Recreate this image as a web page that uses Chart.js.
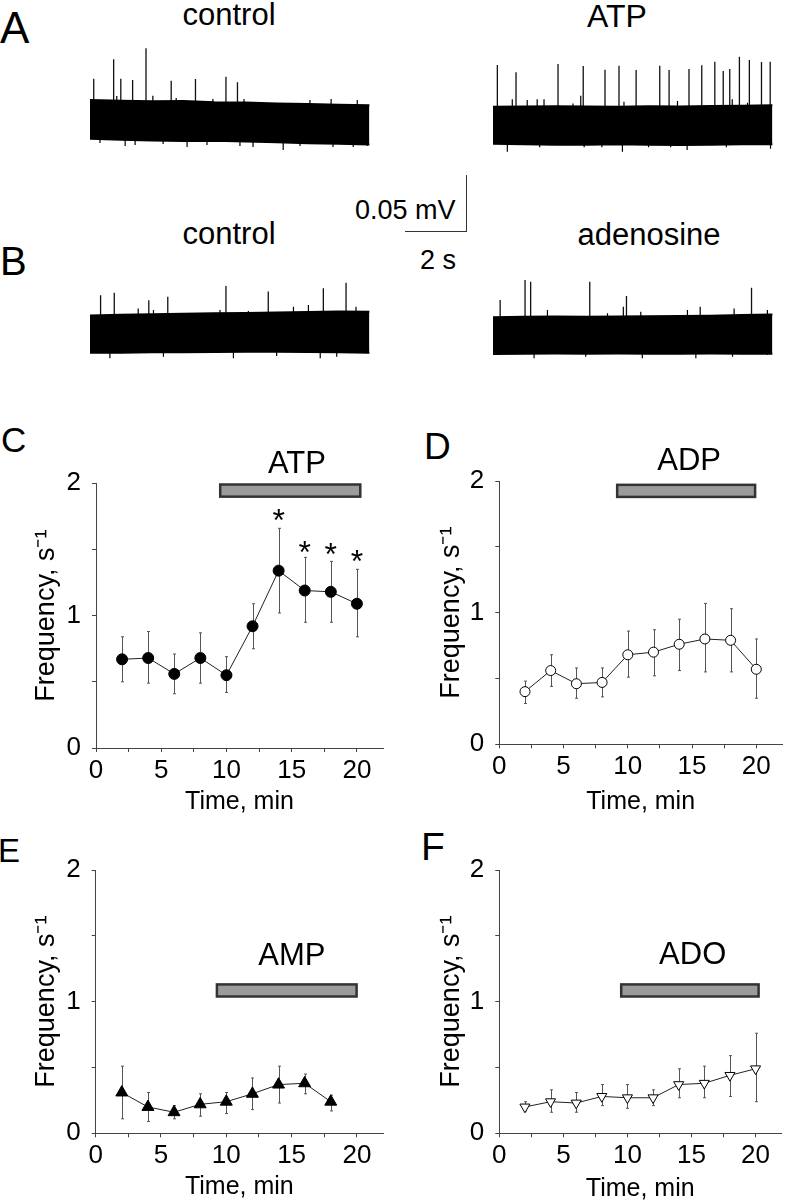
<!DOCTYPE html>
<html><head><meta charset="utf-8">
<script src="https://cdn.jsdelivr.net/npm/chart.js@4"></script>
<style>
html,body{margin:0;padding:0;background:#fff;width:788px;height:1202px;overflow:hidden;position:relative;}
canvas{position:absolute;}
.t{position:absolute;font-family:"Liberation Sans",Arial,sans-serif;color:#000;white-space:nowrap;line-height:1;}
.c{transform:translateX(-50%);}
.sb{position:absolute;background:#333;}
</style></head><body>

<div class="t" style="left:0;top:6px;font-size:44px;">A</div>
<div class="t" style="left:0;top:241px;font-size:40px;">B</div>
<div class="t" style="left:1px;top:422px;font-size:35px;">C</div>
<div class="t" style="left:424px;top:428px;font-size:37px;">D</div>
<div class="t" style="left:-2px;top:834px;font-size:33px;">E</div>
<div class="t" style="left:421px;top:827px;font-size:39px;">F</div>

<div class="t c" style="left:229px;top:-1px;font-size:31px;">control</div>
<div class="t c" style="left:617px;top:0px;font-size:32px;">ATP</div>
<div class="t c" style="left:229px;top:218px;font-size:31px;">control</div>
<div class="t c" style="left:649px;top:219px;font-size:31px;">adenosine</div>

<div class="t" style="left:355px;top:197px;font-size:27px;">0.05 mV</div>
<div class="t" style="left:420px;top:247px;font-size:27px;">2 s</div>
<div class="sb" id="sbV"></div>
<div class="sb" id="sbH"></div>

<canvas id="trA1" width="280" height="125" style="left:90px;top:41px;"></canvas>
<canvas id="trA2" width="280" height="125" style="left:493px;top:46px;"></canvas>
<canvas id="trB1" width="280" height="125" style="left:90px;top:254px;"></canvas>
<canvas id="trB2" width="280" height="125" style="left:493px;top:256px;"></canvas>

<canvas id="pC" width="394" height="440" style="left:0px;top:400px;"></canvas>
<canvas id="pD" width="394" height="440" style="left:394px;top:400px;"></canvas>
<canvas id="pE" width="394" height="382" style="left:0px;top:820px;"></canvas>
<canvas id="pF" width="394" height="382" style="left:394px;top:820px;"></canvas>

<script>
// ---------------- DATA ----------------
// Panels A/B: extracellular traces (time in s, voltage in mV)
const envTime = [0, 1, 2, 3, 4, 5, 6, 7, 8, 8.98];
const ctrlA_top = [0.018, 0.0175, 0.017, 0.0172, 0.016, 0.0158, 0.015, 0.0145, 0.014, 0.0135];
const ctrlA_bot = [-0.016, -0.017, -0.0175, -0.018, -0.0178, -0.0185, -0.019, -0.02, -0.0205, -0.021];
const ctrlA_spikeT = [0.12, 0.76, 0.99, 1.37, 1.80, 2.02, 2.61, 3.39, 4.37, 4.74];
const ctrlA_spikeV = [0.0367, 0.0539, 0.0367, 0.0356, 0.0636, 0.0218, 0.035, 0.0365, 0.0385, 0.0338];
const ctrlA_noiseT = [0.86, 2.77, 3.95, 4.95, 7.07, 7.75, 8.59, 0.32, 1.13, 1.45, 2.35, 3.12, 3.76, 4.82, 5.24, 6.21, 6.75, 7.81, 8.46, 8.91];
const ctrlA_noiseV = [0.0216, 0.0198, 0.0189, 0.0189, 0.018, 0.0189, 0.018, -0.0198, -0.0224, -0.0215, -0.0207, -0.0233, -0.0215, -0.0224, -0.0233, -0.026, -0.0224, -0.0233, -0.0233, -0.0224];

const atpA_top = [0.0165, 0.0168, 0.017, 0.0168, 0.0165, 0.017, 0.0168, 0.0172, 0.0175, 0.0178];
const atpA_bot = [-0.016, -0.0165, -0.017, -0.0168, -0.0165, -0.017, -0.0172, -0.0168, -0.0165, -0.0165];
const atpA_spikeT = [0.14, 0.74, 2.09, 2.82, 2.90, 3.60, 4.05, 4.60, 5.36, 5.66, 6.30, 6.71, 7.13, 7.40, 7.61, 7.92, 8.24, 8.63, 8.91];
const atpA_spikeV = [0.0532, 0.0468, 0.0541, 0.0262, 0.0524, 0.0491, 0.0526, 0.0488, 0.0526, 0.0488, 0.0497, 0.053, 0.0562, 0.048, 0.0497, 0.0606, 0.0577, 0.0559, 0.0562];
const atpA_noiseT = [0.62, 1.10, 1.42, 1.64, 2.57, 4.21, 5.93, 7.69, 8.18, 0.46, 1.50, 2.93, 3.50, 4.16, 5.00, 5.71, 6.24, 7.50, 8.92];
const atpA_noiseV = [0.0231, 0.0225, 0.0231, 0.0231, 0.0195, 0.021, 0.0216, 0.0231, 0.020, -0.023, -0.019, -0.019, -0.019, -0.023, -0.019, -0.019, -0.0215, -0.019, -0.0205];

const ctrlB_top = [0.0158, 0.0165, 0.017, 0.0175, 0.0178, 0.018, 0.0185, 0.019, 0.0195, 0.0192];
const ctrlB_bot = [-0.017, -0.0168, -0.0165, -0.0165, -0.0162, -0.016, -0.016, -0.0162, -0.0165, -0.0168];
const ctrlB_spikeT = [0.34, 0.78, 1.55, 1.89, 2.50, 4.37, 5.73, 7.50, 8.23];
const ctrlB_spikeV = [0.0338, 0.0359, 0.0221, 0.0294, 0.0323, 0.0418, 0.0371, 0.0398, 0.0447];
const ctrlB_noiseT = [2.04, 3.54, 4.18, 5.09, 6.54, 7.02, 8.55, 0.64, 2.36, 4.61, 6.0, 7.4, 7.93];
const ctrlB_noiseV = [0.0207, 0.0178, 0.0207, 0.0198, 0.0236, 0.0251, 0.0236, -0.0218, -0.0204, -0.0218, -0.0198, -0.0218, -0.0204];

const adoB_top = [0.0162, 0.0165, 0.0168, 0.0165, 0.0168, 0.017, 0.0172, 0.0175, 0.018, 0.0185];
const adoB_bot = [-0.0162, -0.016, -0.0158, -0.016, -0.0158, -0.016, -0.016, -0.0158, -0.016, -0.016];
const adoB_spikeT = [0.23, 1.03, 1.21, 3.11, 4.19, 4.29, 6.66, 8.31];
const adoB_spikeV = [0.0312, 0.0488, 0.0473, 0.0473, 0.0253, 0.0347, 0.0253, 0.042];
const adoB_noiseT = [1.75, 3.68, 4.75, 6.25, 7.75, 8.82, 0.14, 1.32, 2.98, 4.80, 6.52, 7.70, 8.82];
const adoB_noiseV = [0.0225, 0.0196, 0.021, 0.0225, 0.0239, 0.0225, -0.0171, -0.02, -0.0186, -0.02, -0.02, -0.0186, -0.0171];

const scaleBarTime = 2;      // s
const scaleBarVolt = 0.05;   // mV

// Panels C-F: frequency (s^-1) vs time (min)
const timeMin = [2, 4, 6, 8, 10, 12, 14, 16, 18, 20];
const atpMean = [0.67, 0.68, 0.56, 0.68, 0.55, 0.92, 1.34, 1.19, 1.18, 1.09];
const atpHi   = [0.84, 0.88, 0.71, 0.87, 0.69, 1.09, 1.66, 1.44, 1.41, 1.35];
const atpLo   = [0.50, 0.49, 0.41, 0.49, 0.42, 0.75, 1.02, 0.95, 0.95, 0.84];
const atpStarX = [14, 16, 18, 20];
const atpStarY = [1.78, 1.54, 1.52, 1.47];

const adpMean = [0.40, 0.56, 0.46, 0.47, 0.68, 0.70, 0.76, 0.80, 0.79, 0.57];
const adpHi   = [0.48, 0.68, 0.58, 0.58, 0.86, 0.87, 0.95, 1.07, 1.03, 0.80];
const adpLo   = [0.31, 0.44, 0.35, 0.36, 0.51, 0.52, 0.56, 0.55, 0.55, 0.35];

const ampTime = [2, 4, 6, 8, 10, 12, 14, 16, 18];
const ampMean = [0.31, 0.20, 0.16, 0.22, 0.24, 0.30, 0.37, 0.38, 0.24];
const ampHi   = [0.51, 0.31, 0.21, 0.30, 0.31, 0.42, 0.51, 0.45, 0.29];
const ampLo   = [0.11, 0.09, 0.11, 0.13, 0.15, 0.18, 0.23, 0.30, 0.17];

const adoMean = [0.20, 0.24, 0.23, 0.28, 0.27, 0.27, 0.37, 0.38, 0.44, 0.49];
const adoHi   = [0.24, 0.33, 0.31, 0.37, 0.37, 0.33, 0.49, 0.51, 0.59, 0.76];
const adoLo   = [0.17, 0.16, 0.16, 0.21, 0.19, 0.21, 0.27, 0.27, 0.28, 0.24];

// drug application bars: [start, end] in min, [low, high] in s^-1, and label position
const atpBarX = [9.43, 20.35], atpBarY = [1.89, 2.0], atpLabel = ['ATP', 15.4, 2.163];
const adpBarX = [9.08, 20.0],  adpBarY = [1.87, 1.98], adpLabel = ['ADP', 14.77, 2.17];
const ampBarX = [9.19, 20.07], ampBarY = [1.03, 1.14], ampLabel = ['AMP', 15.02, 1.36];
const adoBarX = [9.42, 20.33], adoBarY = [1.03, 1.14], adoLabel = ['ADO', 15.09, 1.373];

const xTicksLabelled = [0, 5, 10, 15, 20];
const yTicksLabelled = [0, 1, 2];

// ---------------- RENDER ----------------
const FONT = "'Liberation Sans', Arial, sans-serif";
Chart.defaults.font.family = FONT;
Chart.defaults.color = '#000';

const T_MAX = 9, V_MIN = -0.04, V_MAX = 0.07;

function sticks(ts, vs) {
  const out = [];
  ts.forEach((t, i) => { out.push({x: t, y: 0}, {x: t, y: vs[i]}, {x: t, y: null}); });
  return out;
}

function traceChart(id, top, bot, spT, spV, nT, nV) {
  const upper = envTime.map((t, i) => ({x: t, y: top[i]}));
  const lower = envTime.map((t, i) => ({x: t, y: bot[i]}));
  new Chart(document.getElementById(id), {
    type: 'line',
    data: {datasets: [
      {data: upper, borderColor: '#000', backgroundColor: '#000', borderWidth: 2, pointRadius: 0, fill: '+1', tension: 0},
      {data: lower, borderColor: '#000', backgroundColor: '#000', borderWidth: 2, pointRadius: 0, fill: false, tension: 0},
      {data: sticks(nT, nV), borderColor: '#000', borderWidth: 1.2, pointRadius: 0, fill: false, spanGaps: false},
      {data: sticks(spT, spV), borderColor: '#111', borderWidth: 1.3, pointRadius: 0, fill: false, spanGaps: false}
    ]},
    options: {
      responsive: false, animation: false, events: [],
      layout: {padding: 0},
      plugins: {legend: {display: false}, tooltip: {enabled: false}},
      scales: {
        x: {type: 'linear', display: false, min: 0, max: T_MAX},
        y: {type: 'linear', display: false, min: V_MIN, max: V_MAX}
      }
    }
  });
}
traceChart('trA1', ctrlA_top, ctrlA_bot, ctrlA_spikeT, ctrlA_spikeV, ctrlA_noiseT, ctrlA_noiseV);
traceChart('trA2', atpA_top, atpA_bot, atpA_spikeT, atpA_spikeV, atpA_noiseT, atpA_noiseV);
traceChart('trB1', ctrlB_top, ctrlB_bot, ctrlB_spikeT, ctrlB_spikeV, ctrlB_noiseT, ctrlB_noiseV);
traceChart('trB2', adoB_top, adoB_bot, adoB_spikeT, adoB_spikeV, adoB_noiseT, adoB_noiseV);

// scale bar, sized from the trace scales (280 px = 9 s, 125 px = 0.11 mV)
(function () {
  const pxPerS = 280 / T_MAX, pxPerMv = 125 / (V_MAX - V_MIN);
  const w = scaleBarTime * pxPerS, h = scaleBarVolt * pxPerMv;
  const right = 467, bottom = 232;
  const v = document.getElementById('sbV'), hz = document.getElementById('sbH');
  v.style.cssText += `left:${right - 1}px;top:${bottom - h}px;width:1px;height:${h}px;`;
  hz.style.cssText += `left:${right - w}px;top:${bottom - 1}px;width:${w}px;height:1px;`;
})();

function errPlugin(xs, lo, hi) {
  return {
    id: 'errbars',
    beforeDatasetsDraw(chart) {
      const {ctx, scales: {x, y}} = chart;
      ctx.save(); ctx.strokeStyle = '#555'; ctx.lineWidth = 1;
      xs.forEach((t, i) => {
        const px = Math.round(x.getPixelForValue(t)) + 0.5;
        const y1 = y.getPixelForValue(hi[i]), y2 = y.getPixelForValue(lo[i]);
        ctx.beginPath();
        ctx.moveTo(px, y1); ctx.lineTo(px, y2);
        ctx.moveTo(px - 1.5, y1); ctx.lineTo(px + 1.5, y1);
        ctx.moveTo(px - 1.5, y2); ctx.lineTo(px + 1.5, y2);
        ctx.stroke();
      });
      ctx.restore();
    }
  };
}
function drugPlugin(bx, by, label, stars) {
  return {
    id: 'drug',
    afterDraw(chart) {
      const {ctx, scales: {x, y}} = chart;
      ctx.save();
      const x1 = x.getPixelForValue(bx[0]), x2 = x.getPixelForValue(bx[1]);
      const y1 = y.getPixelForValue(by[1]), y2 = y.getPixelForValue(by[0]);
      ctx.fillStyle = '#9b9b9b'; ctx.strokeStyle = '#333'; ctx.lineWidth = 2.5;
      ctx.fillRect(x1 + 1.2, y1 + 1.2, x2 - x1 - 2.4, y2 - y1 - 2.4);
      ctx.strokeRect(x1 + 1.2, y1 + 1.2, x2 - x1 - 2.4, y2 - y1 - 2.4);
      const F = 31;
      ctx.fillStyle = '#000'; ctx.font = `${F}px ${FONT}`; ctx.textAlign = 'center'; ctx.textBaseline = 'alphabetic';
      ctx.fillText(label[0], x.getPixelForValue(label[1]), y.getPixelForValue(label[2]) + 0.358 * F);
      if (stars) {
        const S = 32; ctx.font = `${S}px ${FONT}`;
        stars[0].forEach((sx, i) => {
          ctx.fillText('*', x.getPixelForValue(sx), y.getPixelForValue(stars[1][i]) + 0.575 * S);
        });
      }
      ctx.restore();
    }
  };
}

function panel(id, canvasLeft, canvasTop, area, yTitleX, xTitleY, ds, errs, drug) {
  const cv = document.getElementById(id);
  const W = cv.width, H = cv.height;
  const yTitleF = 27, xTitleF = 25;
  const padL = yTitleX - canvasLeft - yTitleF / 2;
  const yW = area.left - canvasLeft - padL;
  const padT = area.top - canvasTop;
  const padR = canvasLeft + W - area.right;
  const xH = xTitleY + xTitleF / 2 - area.bottom;
  const padB = canvasTop + H - area.bottom - xH;
  const axisCommon = {
    grid: {drawOnChartArea: false, drawTicks: true, tickLength: 4, color: '#444', lineWidth: 1},
    border: {display: true, color: '#444', width: 1}
  };
  new Chart(cv, {
    type: 'line',
    data: {datasets: [ds]},
    options: {
      responsive: false, animation: false, events: [],
      layout: {padding: {left: padL, right: padR, top: padT, bottom: padB}},
      plugins: {legend: {display: false}, tooltip: {enabled: false}},
      scales: {
        x: Object.assign({}, axisCommon, {
          type: 'linear', min: 0, max: 22,
          afterFit(s) { s.height = xH; },
          ticks: {stepSize: 2.5, includeBounds: false, autoSkip: false, maxRotation: 0, padding: 3,
            font: {size: 26, lineHeight: 1.2}, color: '#000',
            callback: v => xTicksLabelled.includes(v) ? String(v) : ''},
          title: {display: true, text: 'Time, min', font: {size: xTitleF, lineHeight: 1}, padding: 0, color: '#000'}
        }),
        y: Object.assign({}, axisCommon, {
          type: 'linear', min: 0, max: 2,
          afterFit(s) { s.width = yW; },
          ticks: {stepSize: 0.5, autoSkip: false, padding: 11, font: {size: 26, lineHeight: 1.2}, color: '#000',
            callback: v => yTicksLabelled.includes(v) ? String(v) : ''},
          title: {display: true, text: 'Frequency, s\u207B\u00B9', font: {size: yTitleF, lineHeight: 1}, padding: 0, color: '#000'}
        })
      }
    },
    plugins: [errPlugin(...errs), drugPlugin(...drug)]
  });
}

function series(xs, ys, style) {
  return Object.assign({
    data: xs.map((t, i) => ({x: t, y: ys[i]})),
    borderColor: '#222', borderWidth: 1, tension: 0, fill: false,
    pointBorderColor: '#000', pointBorderWidth: 1
  }, style);
}

panel('pC', 0, 400, {left: 96, right: 383, top: 483.3, bottom: 748}, 47, 802,
  series(timeMin, atpMean, {pointStyle: 'circle', pointRadius: 5.5, pointBackgroundColor: '#000'}),
  [timeMin, atpLo, atpHi], [atpBarX, atpBarY, atpLabel, [atpStarX, atpStarY]]);
panel('pD', 394, 400, {left: 499.3, right: 787, top: 481, bottom: 744.3}, 452, 802,
  series(timeMin, adpMean, {pointStyle: 'circle', pointRadius: 5, pointBackgroundColor: '#fff'}),
  [timeMin, adpLo, adpHi], [adpBarX, adpBarY, adpLabel, null]);
panel('pE', 0, 820, {left: 95.7, right: 383, top: 870, bottom: 1133.3}, 47, 1187,
  series(ampTime, ampMean, {pointStyle: 'triangle', pointRadius: 6.9, pointBackgroundColor: '#000'}),
  [ampTime, ampLo, ampHi], [ampBarX, ampBarY, ampLabel, null]);
panel('pF', 394, 820, {left: 499.3, right: 787, top: 870, bottom: 1133.3}, 452, 1189,
  series(timeMin, adoMean, {pointStyle: 'triangle', pointRotation: 180, pointRadius: 5.8, pointBackgroundColor: '#fff'}),
  [timeMin, adoLo, adoHi], [adoBarX, adoBarY, adoLabel, null]);
</script>
</body></html>
